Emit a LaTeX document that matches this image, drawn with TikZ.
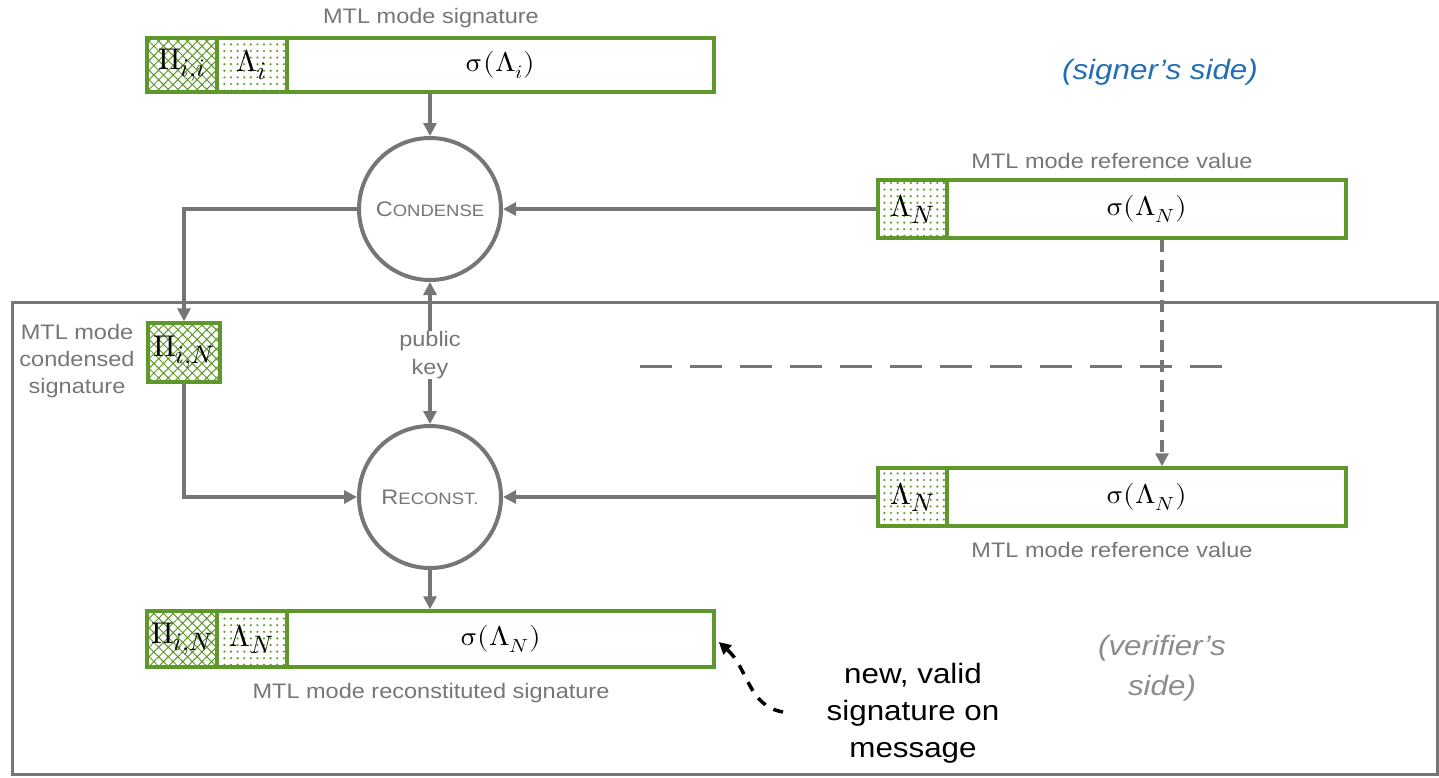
\documentclass[tikz,border=0pt]{standalone}
\usepackage{fontspec}
\usepackage{unicode-math}
\setmainfont[FakeStretch=1.12]{Liberation Sans}
\setmathfont{Latin Modern Math}
\usepackage{graphicx}
\usetikzlibrary{arrows.meta,patterns.meta}

\definecolor{boxgreen}{RGB}{94,151,42}
\definecolor{linegray}{RGB}{118,118,118}
\definecolor{labelgray}{RGB}{118,118,118}
\definecolor{sideblue}{RGB}{35,110,180}
\definecolor{sidegray}{RGB}{140,140,140}

% slightly widened math, in step with the stretched sans text
\newcommand\widemath[1]{\scalebox{1.1}[1]{$#1$}}
% larger indices, as in the cell labels
\newcommand\bigsub[1]{\scalebox{1.2}{$\scriptstyle #1$}}
\newcommand\smallcapsword[2]{{\fontsize{21}{21}\selectfont #1}{\fontsize{16.5}{16.5}\selectfont #2}}

\tikzset{
  cellbox/.style={draw=boxgreen, line width=3.5pt, inner sep=0pt, fill=white},
  hatchcell/.style={cellbox, pattern color=boxgreen,
    pattern={Hatch[angle=45,distance=6.8pt,line width=1pt]},
    font=\fontsize{30}{30}\selectfont},
  dotcell/.style={cellbox, pattern color=boxgreen,
    pattern={Dots[distance=6.6pt,radius=1.2pt]},
    font=\fontsize{30}{30}\selectfont},
  sigcell/.style={cellbox, font=\fontsize{27}{27}\selectfont},
  proc/.style={circle, draw=linegray, line width=4pt, minimum size=142pt,
    inner sep=0pt, text=labelgray},
  arr/.style={draw=linegray, line width=4pt, -{Triangle[length=13pt,width=13pt]}},
  dasharr/.style={draw=linegray, line width=3.5pt, dash pattern=on 12pt off 8pt,
    -{Triangle[length=13pt,width=13pt]}},
  guide/.style={draw=linegray, line width=3pt, dash pattern=on 32pt off 18pt},
  note/.style={draw=black, line width=3.5pt, dash pattern=on 10pt off 9pt,
    -{Triangle[length=12pt,width=12pt]}},
  lbl/.style={text=labelgray, font=\fontsize{21}{27}\selectfont, align=center, inner sep=0pt},
}

\begin{document}
\begin{tikzpicture}[x=1pt,y=-1pt]
  \useasboundingbox (0,0) rectangle (1439,777);

  % verifier's frame
  \draw[linegray, line width=3pt] (12,302) rectangle (1437,774);

  % MTL mode signature (top)
  \node[hatchcell, minimum width=70pt, minimum height=54pt] (tpi) at (182,65) {$\Pi_{\bigsub{i,i}}$};
  \node[dotcell, minimum width=70pt, minimum height=54pt] (tlam) at (252,65) {$\Lambda_{\bigsub{i}}$};
  \node[sigcell, minimum width=427pt, minimum height=54pt] (tsig) at (500.5,65) {\widemath{\symup{\sigma}(\Lambda_i)}};
  \node[lbl] (tlbl) at (431,18) {MTL mode signature};

  \node[text=sideblue, font=\fontsize{28}{28}\selectfont\itshape] (signer) at (1160,72) {(signer’s side)};

  % reference value, signer's side
  \node[dotcell, minimum width=69pt, minimum height=58pt] (r1lam) at (912.5,209) {$\Lambda_{\bigsub{N}}$};
  \node[sigcell, minimum width=399pt, minimum height=58pt] (r1sig) at (1146.5,209) {\widemath{\symup{\sigma}(\Lambda_N)}};
  \node[lbl] (r1lbl) at (1112,161) {MTL mode reference value};

  % processes
  \node[proc] (cond) at (430,209) {\smallcapsword{C}{ONDENSE}};
  \node[proc] (rec) at (430,497) {\smallcapsword{R}{ECONST.}};

  % condensed signature
  \node[hatchcell, minimum width=72pt, minimum height=59pt] (pin) at (184,352.5) {$\Pi_{\bigsub{i,N}}$};
  \node[lbl] (pinlbl) at (77,361) {MTL mode\\condensed\\signature};

  \node[lbl, font=\fontsize{21}{28}\selectfont] (pk) at (430,355) {public\\key};

  % reference value, verifier's side
  \node[dotcell, minimum width=69pt, minimum height=58pt] (r2lam) at (912.5,497) {$\Lambda_{\bigsub{N}}$};
  \node[sigcell, minimum width=399pt, minimum height=58pt] (r2sig) at (1146.5,497) {\widemath{\symup{\sigma}(\Lambda_N)}};
  \node[lbl] (r2lbl) at (1112,550) {MTL mode reference value};

  % reconstituted signature
  \node[hatchcell, minimum width=70pt, minimum height=56pt] (bpi) at (182,639) {$\Pi_{\bigsub{i,N}}$};
  \node[dotcell, minimum width=70pt, minimum height=56pt] (blam) at (252,639) {$\Lambda_{\bigsub{N}}$};
  \node[sigcell, minimum width=427pt, minimum height=56pt] (bsig) at (500.5,639) {\widemath{\symup{\sigma}(\Lambda_N)}};
  \node[lbl] (blbl) at (431,693) {MTL mode reconstituted signature};

  \node[text=sidegray, font=\fontsize{28}{40}\selectfont\itshape, align=center] (verifier) at (1162,668) {(verifier’s\\side)};
  \node[font=\fontsize{28}{37}\selectfont, align=center] (msg) at (913,713) {new, valid\\signature on\\message};

  % connectors
  \draw[arr] (tsig.south -| cond.north) -- (cond.north);
  \draw[arr] (r1lam.west) -- (cond.east);
  \draw[arr] (cond.west) -| (pin.north);
  \draw[arr] (pk) -- (cond.south);
  \draw[arr] (pk) -- (rec.north);
  \draw[arr] (pin.south) |- (rec.west);
  \draw[arr] (r2lam.west) -- (rec.east);
  \draw[arr] (rec.south) -- (bsig.north -| rec.south);
  \draw[dasharr] ([xshift=15.5pt]r1sig.south) -- ([xshift=15.5pt]r2sig.north);

  \coordinate (gl) at (640,366);
  \coordinate (gr) at (1222,366);
  \draw[guide] (gl) -- (gr);

  \coordinate (tail) at (783,712);
  \draw[note] (tail) .. controls (748,706) and (748,668) .. ([xshift=3pt,yshift=-3pt]bsig.east);
\end{tikzpicture}
\end{document}
